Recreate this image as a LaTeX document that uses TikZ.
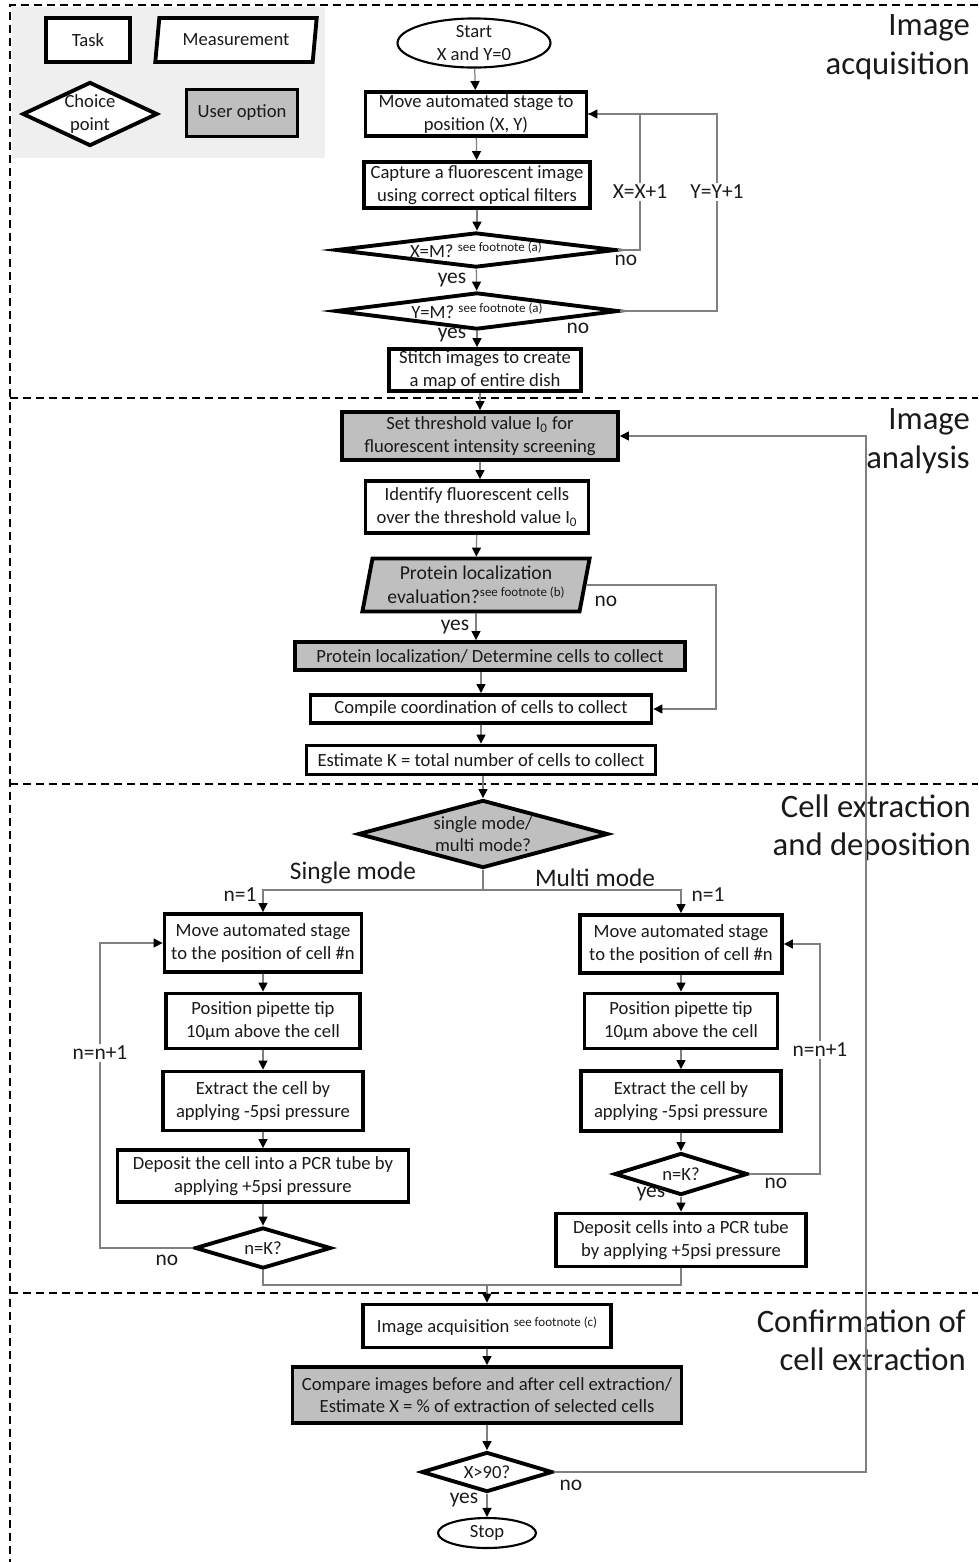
\documentclass[tikz,border=0pt]{standalone}
\usepackage{fontspec}
\setmainfont{Carlito}
\usetikzlibrary{arrows.meta,shapes.geometric,calc}
\definecolor{ink}{HTML}{1A1A1A}
\definecolor{wiregray}{HTML}{808080}
\definecolor{useropt}{HTML}{BFBFBF}
\definecolor{legendbg}{HTML}{EFEFEF}
\newcommand{\fnote}[1]{\raisebox{0.7ex}{\fontsize{7.4}{8}\selectfont see footnote (#1)}}

\begin{document}
\begin{tikzpicture}[x=0.02cm,y=-0.02cm,font=\fontsize{10.6}{12.8}\selectfont,text=ink,
  task/.style={draw=black,line width=2.2pt,fill=white,align=center,inner sep=1pt},
  user/.style={task,fill=useropt},
  choice/.style={draw=black,line width=2.2pt,fill=white,diamond,align=center,inner sep=0pt},
  meas/.style={draw=black,line width=2.2pt,fill=white,trapezium,trapezium left angle=77,
               trapezium right angle=103,trapezium stretches=true,align=center,inner sep=0pt},
  term/.style={draw=black,line width=1.2pt,fill=white,ellipse,align=center,inner sep=0pt},
  wire/.style={draw=wiregray,line width=0.7pt},
  arr/.style={wire,-{Triangle[length=1.8mm,width=1.8mm,color=black]}},
  lbl/.style={inner sep=1pt,font=\fontsize{12.2}{14}\selectfont},
  sec/.style={font=\fontsize{18.6}{21.8}\selectfont,align=right,anchor=east},
  sepline/.style={line width=0.8pt,dash pattern=on 0.16cm off 0.1cm}]
  \useasboundingbox (0,0) rectangle (978,1562);
  % sections
  \draw[sepline] (978,5) -- (10,5) -- (10,1562);
  \foreach \y in {398,784,1293} \draw[sepline] (10,\y) -- (978,\y);
  \node[sec] (secacq) at (976,47) {Image\\acquisition};
  \node[sec] (secana) at (976,441) {Image\\analysis};
  \node[sec] (secext) at (977,828) {Cell extraction\\and deposition};
  \node[sec] (seccon) at (972,1340) {Confirmation of\\cell extraction};
  % legend
  \fill[legendbg] (12,7) rectangle (325,158);
  \node[task,minimum width=1.68cm,minimum height=0.88cm] (legtask) at (88,40) {Task};
  \node[meas,minimum width=3.24cm,minimum height=0.88cm] (legmeas) at (236,40) {Measurement};
  \node[choice,shape aspect=2.1,minimum width=2.7cm,minimum height=1.28cm,inner sep=-2pt] (legchoice) at (90,114) {Choice\\point};
  \node[user,minimum width=2.22cm,minimum height=0.94cm] (leguser) at (242,113) {User option};

  % image acquisition
  \node[term,minimum width=3.06cm,minimum height=0.9cm] (start) at (474,43) {Start\\X and Y=0};
  \node[task,minimum width=4.42cm,minimum height=0.88cm] (movexy) at (476,114) {Move automated stage to\\position (X, Y)};
  \node[task,minimum width=4.52cm,minimum height=0.92cm] (capture) at (477,185) {Capture a fluorescent image\\using correct optical filters};
  \node[choice,shape aspect=8,minimum width=5.6cm,minimum height=0.7cm] (xm) at (476,250) {X=M? \fnote{a}};
  \node[choice,shape aspect=7.6,minimum width=5.66cm,minimum height=0.74cm] (ym) at (477,311) {Y=M? \fnote{a}};
  \node[task,minimum width=3.84cm,minimum height=0.84cm] (stitch) at (485,370) {Stitch images to create\\a map of entire dish};
  \node[lbl] (xinc) at (640,192) {X=X+1};
  \node[lbl] (yinc) at (717,192) {Y=Y+1};

  % image analysis
  \node[user,minimum width=5.52cm,minimum height=0.96cm] (thresh) at (480,436) {Set threshold value I\textsubscript{0} for\\fluorescent intensity screening};
  \node[task,minimum width=4.46cm,minimum height=1.04cm] (ident) at (477,507) {Identify fluorescent cells\\over the threshold value I\textsubscript{0}};
  \node[meas,fill=useropt,minimum width=4.55cm,minimum height=1.06cm,font=\fontsize{11.2}{13.4}\selectfont] (protev) at (476,585) {Protein localization\\evaluation?\fnote{b}};
  \node[user,minimum width=7.8cm,minimum height=0.56cm] (protloc) at (490,656) {Protein localization/ Determine cells to collect};
  \node[task,minimum width=6.82cm,minimum height=0.56cm] (compile) at (481,709) {Compile coordination of cells to collect};
  \node[task,minimum width=6.98cm,minimum height=0.58cm] (estk) at (481,760) {Estimate K = total number of cells to collect};
  \coordinate (protno) at (716,650);

  % cell extraction and deposition
  \node[choice,fill=useropt,shape aspect=3.7,minimum width=5.0cm,minimum height=1.36cm] (mode) at (483,834) {single mode/\\multi mode?};
  \coordinate (split) at (483,890);
  \node[lbl,font=\fontsize{14.4}{16}\selectfont] (single) at (353,873) {Single mode};
  \node[lbl,font=\fontsize{14.4}{16}\selectfont] (multi) at (595,878) {Multi mode};
  \node[task,minimum width=3.94cm,minimum height=1.16cm] (lmove) at (263,943) {Move automated stage\\to the position of cell \#n};
  \node[task,minimum width=3.88cm,minimum height=1.1cm] (ltip) at (263,1021) {Position pipette tip\\10µm above the cell};
  \node[task,minimum width=4.0cm,minimum height=1.18cm] (lext) at (263,1101) {Extract the cell by\\applying -5psi pressure};
  \node[task,minimum width=5.82cm,minimum height=1.04cm] (ldep) at (263,1176) {Deposit the cell into a PCR tube by\\applying +5psi pressure};
  \node[choice,shape aspect=3.3,minimum width=2.72cm,minimum height=0.82cm] (lnk) at (263,1248) {n=K?};
  \node[lbl] (linc) at (100,1053) {n=n+1};
  \node[task,minimum width=4.04cm,minimum height=1.16cm] (rmove) at (681,944) {Move automated stage\\to the position of cell \#n};
  \node[task,minimum width=3.86cm,minimum height=1.1cm] (rtip) at (681,1021) {Position pipette tip\\10µm above the cell};
  \node[task,minimum width=4.0cm,minimum height=1.2cm] (rext) at (681,1101) {Extract the cell by\\applying -5psi pressure};
  \node[choice,shape aspect=3.2,minimum width=2.66cm,minimum height=0.84cm] (rnk) at (681,1174) {n=K?};
  \node[task,minimum width=5.0cm,minimum height=1.06cm] (rdep) at (681,1240) {Deposit cells into a PCR tube\\by applying +5psi pressure};
  \node[lbl] (rinc) at (820,1050) {n=n+1};
  \coordinate (merge) at (487,1285);

  % confirmation
  \node[task,minimum width=4.96cm,minimum height=0.86cm] (acq) at (487,1326) {Image acquisition \fnote{c}};
  \node[user,minimum width=7.78cm,minimum height=1.12cm] (cmp) at (487,1395) {Compare images before and after cell extraction/\\Estimate X = \% of extraction of selected cells};
  \node[choice,shape aspect=3.3,minimum width=2.62cm,minimum height=0.8cm] (xgt) at (487,1472) {X>90?};
  \node[term,minimum width=1.96cm,minimum height=0.6cm] (stop) at (487,1533) {Stop};
  \coordinate (back) at (866,436);

  % yes / no / n=1
  \foreach \x/\y/\t/\n in {452/280/yes/yesxm,452/335/yes/yesym,455/627/yes/yespe,651/1194/yes/yesrk,464/1500/yes/yesx,
                           626/260/no/noxm,578/328/no/noym,606/601/no/nope,167/1260/no/nolk,776/1183/no/nork,571/1485/no/nox,
                           240/895/n=1/lone,708/895/n=1/rone}
    \node[lbl] (\n) at (\x,\y) {\t};

  % connectors
  \draw[arr] (start) -- (movexy);
  \draw[arr] (movexy) -- (capture);
  \draw[arr] (capture.south) -- (capture.south |- xm.north);
  \draw[arr] (xm) -- (ym);
  \draw[arr] (ym.south) -- (ym.south |- stitch.north);
  \draw[wire] (xm.east) -| (xinc.south);
  \draw[wire] (xinc.north) |- (movexy.east);
  \draw[wire] (ym.east) -| (yinc.south);
  \draw[arr] (yinc.north) |- (movexy.east);
  \draw[arr] (stitch.south -| thresh.north) -- (thresh.north);
  \draw[arr] (thresh.south) -- (thresh.south |- ident.north);
  \draw[arr] (ident) -- (protev);
  \draw[arr] (protev.south) -- (protev.south |- protloc.north);
  \draw[arr] (protloc.south -| compile.north) -- (compile.north);
  \draw[arr] (protev.east) -| (protno) |- (compile.east);
  \draw[arr] (compile) -- (estk);
  \draw[arr] (estk.south -| mode.north) -- (mode.north);
  \draw[wire] (mode.south) -- (split);
  \draw[arr] (split) -| (lmove.north);
  \draw[arr] (split) -| (rmove.north);
  \draw[arr] (lmove) -- (ltip);
  \draw[arr] (ltip) -- (lext);
  \draw[arr] (lext) -- (ldep);
  \draw[arr] (ldep) -- (lnk);
  \draw[wire] (lnk.west) -| (linc.south);
  \draw[arr] (linc.north) |- (lmove.west);
  \draw[arr] (rmove) -- (rtip);
  \draw[arr] (rtip) -- (rext);
  \draw[arr] (rext) -- (rnk);
  \draw[arr] (rnk) -- (rdep);
  \draw[wire] (rnk.east) -| (rinc.south);
  \draw[arr] (rinc.north) |- (rmove.east);
  \draw[wire] (lnk.south) |- (merge);
  \draw[wire] (rdep.south) |- (merge);
  \draw[arr] (merge) -- (acq.north);
  \draw[arr] (acq) -- (cmp);
  \draw[arr] (cmp) -- (xgt);
  \draw[arr] (xgt) -- (stop);
  \draw[arr] (xgt.east) -| (back) -- (thresh.east);
\end{tikzpicture}
\end{document}
